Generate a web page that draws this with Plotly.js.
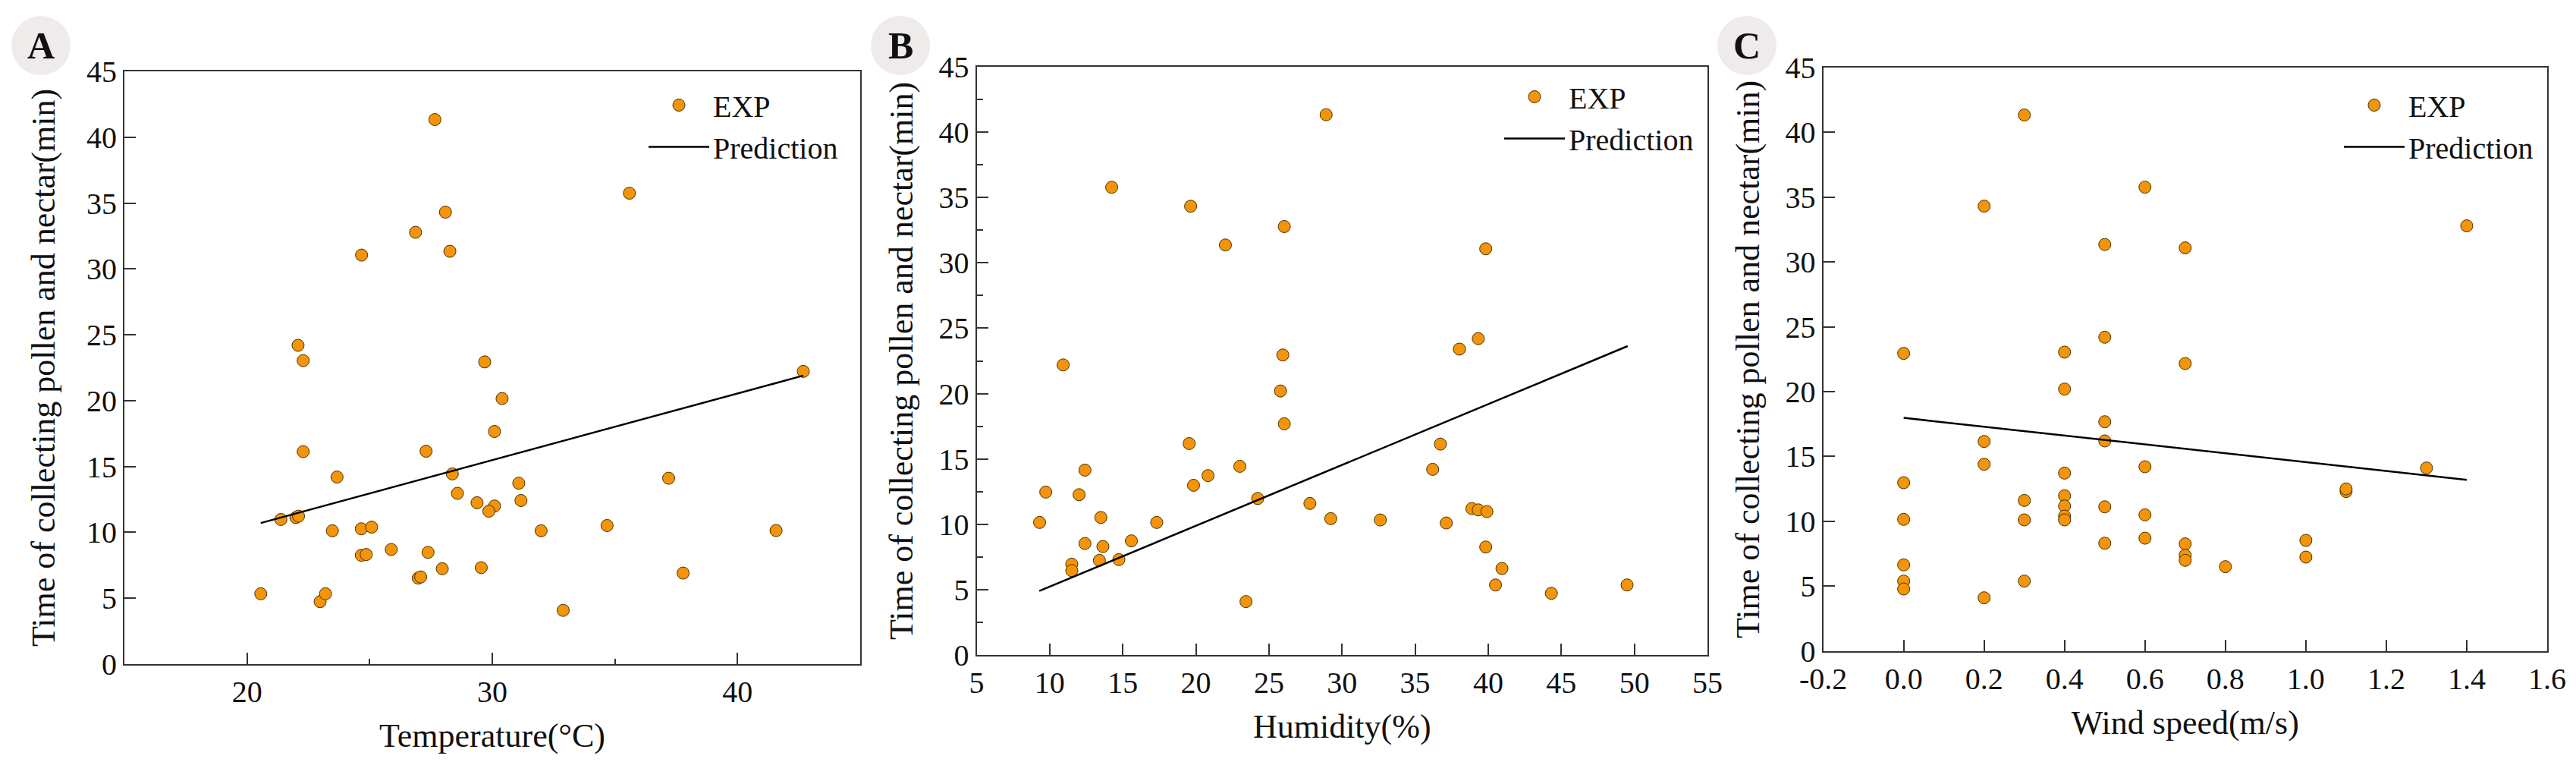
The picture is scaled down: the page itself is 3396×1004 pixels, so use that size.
<!DOCTYPE html>
<html>
<head>
<meta charset="utf-8">
<script src="https://cdn.plot.ly/plotly-3.0.1.min.js"></script>
<style>
  html, body { margin: 0; padding: 0; background: #fff; }
  #chart { width: 3396px; height: 1004px; }
</style>
</head>
<body>
<div id="chart"></div>
<script>
// panel A: temperature
const tempX = [22.08, 22.29, 24.67, 26.87, 27.66, 28.09, 28.27, 29.69, 35.59, 42.68,
  22.29, 23.67, 21.38, 21.99, 22.10, 23.48, 24.66, 25.08, 24.66, 24.86,
  25.88, 26.98, 27.08, 20.56, 22.98, 23.20, 27.30, 30.40, 30.09, 28.37,
  31.08, 28.58, 29.38, 30.09, 29.86, 31.17, 37.19, 31.99, 34.68, 41.57,
  27.38, 27.96, 29.55, 37.78, 32.89];
const tempY = [24.2, 23.04, 31.05, 32.78, 41.34, 34.31, 31.34, 22.94, 35.75, 22.22,
  16.13, 14.2, 10.98, 11.13, 11.23, 10.12, 10.27, 10.40, 8.26, 8.32,
  8.70, 6.53, 6.62, 5.34, 4.74, 5.34, 16.16, 20.16, 17.66, 14.44,
  13.73, 12.96, 12.25, 12.0, 11.61, 12.42, 14.11, 10.12, 10.52, 10.14,
  8.48, 7.24, 7.32, 6.91, 4.08];
const predTempX = [20.56, 42.68];
const predTempY = [10.71, 21.9];

// panel B: humidity
const humX = [14.24, 19.64, 22.02, 26.05, 25.95, 10.92, 28.91, 39.83, 39.32, 38.03,
  25.79, 26.05, 19.54, 23.01, 20.83, 19.84, 12.41, 9.73, 12.01, 24.23,
  9.31, 13.50, 17.32, 12.41, 13.64, 15.59, 13.40, 14.73, 11.51, 11.51,
  23.43, 36.73, 36.20, 27.80, 29.23, 32.62, 37.13, 38.88, 39.32, 39.91,
  39.83, 40.94, 40.50, 44.32, 49.50];
const humY = [35.77, 34.32, 31.36, 32.77, 22.95, 22.19, 41.32, 31.07, 24.2, 23.4,
  20.2, 17.69, 16.18, 14.44, 13.73, 12.99, 14.15, 12.47, 12.27, 11.98,
  10.15, 10.53, 10.15, 8.54, 8.31, 8.74, 7.25, 7.31, 6.96, 6.47,
  4.1, 16.14, 14.21, 11.6, 10.44, 10.34, 10.11, 11.21, 11.11, 10.98,
  8.27, 6.63, 5.37, 4.73, 5.37];
const predHumX = [9.29, 49.54];
const predHumY = [4.91, 23.63];

// panel C: wind speed
const windX = [0.3, 0.2, 0.5, 0.6, 0.0, 0.4, 0.5, 0.7, 0.7, 1.4,
  0.4, 0.5, 0.2, 0.5, 0.2, 0.6, 0.4, 0.0, 0.3, 0.4,
  0.4, 0.4, 0.4, 0.5, 0.0, 0.3, 0.6, 0.5, 0.6, 0.0,
  0.0, 0.0, 0.3, 0.2, 1.3, 1.1, 1.1, 0.7, 0.7, 0.7,
  0.8, 1.0, 1.0];
const windY = [41.34, 34.31, 31.35, 35.77, 22.95, 23.05, 24.2, 31.09, 22.17, 32.79,
  20.2, 17.68, 16.16, 16.2, 14.4, 14.21, 13.72, 12.98, 11.61, 11.97,
  11.18, 10.4, 10.11, 11.12, 10.15, 10.11, 10.5, 8.31, 8.7, 6.64,
  5.39, 4.78, 5.39, 4.1, 14.11, 12.3, 12.5, 8.26, 7.38, 6.99,
  6.5, 8.53, 7.24];
const predWindX = [0.0, 1.4];
const predWindY = [17.98, 13.2];
const windTicks = [-0.2, 0, 0.2, 0.4, 0.6, 0.8, 1.0, 1.2, 1.4, 1.6];
const windTickText = ['-0.2', '0.0', '0.2', '0.4', '0.6', '0.8', '1.0', '1.2', '1.4', '1.6'];

const serif = 'Liberation Serif, Times New Roman, serif';
const W = 3396, H = 1004;

function pts(x, y, xa, ya, leg) {
  return {
    x, y, xaxis: xa, yaxis: ya, legend: leg,
    name: 'EXP', mode: 'markers', type: 'scatter',
    marker: { size: 16, color: '#f39409', line: { color: '#4a3000', width: 1 } },
  };
}
function pred(x, y, xa, ya, leg) {
  return {
    x, y, xaxis: xa, yaxis: ya, legend: leg,
    name: 'Prediction', mode: 'lines', type: 'scatter',
    line: { color: '#000', width: 2.5 },
  };
}

const data = [
  pts(tempX, tempY, 'x', 'y', 'legend'),
  pred(predTempX, predTempY, 'x', 'y', 'legend'),
  pts(humX, humY, 'x2', 'y2', 'legend2'),
  pred(predHumX, predHumY, 'x2', 'y2', 'legend2'),
  pts(windX, windY, 'x3', 'y3', 'legend3'),
  pred(predWindX, predWindY, 'x3', 'y3', 'legend3'),
];

// pixel boxes of the three plot areas
function dom(a, b, size) { return [a / size, b / size]; }
function vdom(top, bottom) { return [1 - bottom / H, 1 - top / H]; }

const axisBase = {
  showline: true, mirror: true, linecolor: '#333', linewidth: 2,
  ticks: 'inside', ticklen: 15, tickwidth: 2, tickcolor: '#333',
  showgrid: false, zeroline: false,
  tickfont: { family: serif, size: 40, color: '#111' },
};
const yTitle = { text: 'Time of collecting pollen and nectar(min)', font: { family: serif, size: 44, color: '#111' } };

function legendAt(x, y) {
  return {
    x, y, xanchor: 'left', yanchor: 'top', bgcolor: 'rgba(0,0,0,0)',
    font: { family: serif, size: 40, color: '#111' }, itemwidth: 80,
    tracegroupgap: 0,
  };
}

function badge(cx) {
  return {
    type: 'circle', xref: 'paper', yref: 'paper',
    x0: (cx - 39) / W, x1: (cx + 39) / W, y0: 1 - 99 / H, y1: 1 - 21 / H,
    fillcolor: '#eeebea', line: { width: 0 }, layer: 'below',
  };
}
function badgeText(cx, letter) {
  return {
    xref: 'paper', yref: 'paper', x: cx / W, y: 1 - 60 / H,
    xanchor: 'center', yanchor: 'middle',
    text: '<b>' + letter + '</b>', showarrow: false,
    font: { family: serif, size: 50, color: '#111' },
  };
}

const layout = {
  width: W, height: H,
  margin: { l: 0, r: 0, t: 0, b: 0 },
  paper_bgcolor: '#fff', plot_bgcolor: 'rgba(0,0,0,0)',
  xaxis: Object.assign({}, axisBase, {
    domain: dom(164, 1134, W), range: [15, 45], dtick: 10, tick0: 0,
    minor: { dtick: 5, ticks: 'inside', ticklen: 7, tickwidth: 2, tickcolor: '#333' },
    title: { text: 'Temperature(°C)', font: { family: serif, size: 44, color: '#111' }, standoff: 20 },
  }),
  yaxis: Object.assign({}, axisBase, {
    domain: vdom(94, 875), range: [0, 45], dtick: 5,
    title: Object.assign({ standoff: 28 }, yTitle),
  }),
  xaxis2: Object.assign({}, axisBase, {
    anchor: 'y2', domain: dom(1287.5, 2251, W), range: [5, 55], dtick: 5,
    title: { text: 'Humidity(%)', font: { family: serif, size: 44, color: '#111' }, standoff: 20 },
  }),
  yaxis2: Object.assign({}, axisBase, {
    anchor: 'x2', domain: vdom(87.7, 863.3), range: [0, 45], dtick: 5,
    minor: { dtick: 2.5, ticks: 'inside', ticklen: 8, tickwidth: 2, tickcolor: '#333' },
    title: Object.assign({ standoff: 20 }, yTitle),
  }),
  xaxis3: Object.assign({}, axisBase, {
    anchor: 'y3', domain: dom(2403.6, 3358, W), range: [-0.2, 1.6],
    tickvals: windTicks, ticktext: windTickText,
    title: { text: 'Wind speed(m/s)', font: { family: serif, size: 44, color: '#111' }, standoff: 20 },
  }),
  yaxis3: Object.assign({}, axisBase, {
    anchor: 'x3', domain: vdom(89, 857.7), range: [0, 45], dtick: 5,
    title: Object.assign({ standoff: 20 }, yTitle),
  }),
  legend: legendAt(850 / W, 1 - 106 / H),
  legend2: legendAt(1978 / W, 1 - 95 / H),
  legend3: legendAt(3085 / W, 1 - 106 / H),
  shapes: [badge(54), badge(1187), badge(2303)],
  annotations: [badgeText(54, 'A'), badgeText(1187, 'B'), badgeText(2303, 'C')],
  showlegend: true,
};

Plotly.newPlot('chart', data, layout, { staticPlot: true });
</script>
</body>
</html>
